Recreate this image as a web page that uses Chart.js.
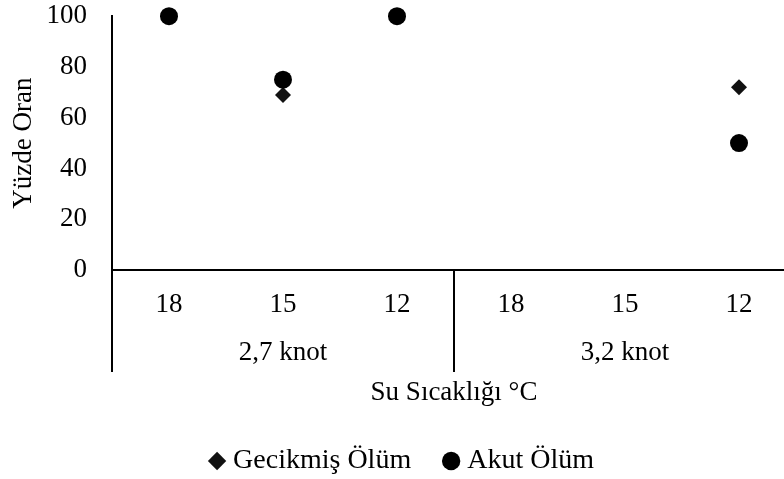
<!DOCTYPE html>
<html>
<head>
<meta charset="utf-8">
<script src="https://cdn.jsdelivr.net/npm/chart.js@4.4.1/dist/chart.umd.min.js"></script>
<style>
  html, body { margin: 0; padding: 0; background: #fff; overflow: hidden; }
  #wrap { width: 805px; height: 485px; }
</style>
</head>
<body>
<div id="wrap"><canvas id="c"></canvas></div>
<script>
// data
const tempLabels = ['18', '15', '12', '18', '15', '12'];
const speedLabels = ['2,7 knot', '3,2 knot'];
const gecikmis = [100, 69, 100, null, null, 72];
const akut = [100, 75, 100, null, null, 50];
const yTicks = [0, 20, 40, 60, 80, 100];

const FONT = "'Liberation Serif', 'Times New Roman', serif";
// invisible tick marks are used as the label gap (ticks.padding would also pad the chart area)
const gap = len => ({ display: true, drawOnChartArea: false, drawTicks: true, tickLength: len, color: 'rgba(0,0,0,0)' });

// extra axis lines: y axis runs down through the category rows, plus group separators
const groupLines = {
  id: 'groupLines',
  afterDraw(chart) {
    const { ctx, chartArea } = chart;
    const x = chart.scales.x, x2 = chart.scales.x2;
    const bottom = x2.top + 40;
    const mid = (x.getPixelForValue(2) + x.getPixelForValue(3)) / 2;
    ctx.save();
    ctx.strokeStyle = '#000';
    ctx.lineWidth = 2;
    ctx.beginPath();
    [chartArea.left, mid, chartArea.right].forEach(px => {
      ctx.moveTo(px, chartArea.bottom);
      ctx.lineTo(px, bottom);
    });
    ctx.stroke();
    ctx.restore();
  }
};

new Chart(document.getElementById('c'), {
  type: 'line',
  data: {
    labels: tempLabels,
    datasets: [
      { label: 'Gecikmiş Ölüm', data: gecikmis, showLine: false, order: 2, clip: false,
        pointStyle: 'rectRot', pointRadius: 8, pointHoverRadius: 8,
        backgroundColor: '#111', borderColor: '#111', borderWidth: 0 },
      { label: 'Akut Ölüm', data: akut, showLine: false, order: 1, clip: false,
        pointStyle: 'circle', pointRadius: 9, pointHoverRadius: 9,
        backgroundColor: '#000', borderColor: '#000', borderWidth: 0 }
    ]
  },
  options: {
    responsive: true,
    maintainAspectRatio: false,
    animation: false,
    layout: { padding: { top: 16, bottom: 0, left: 13, right: 9 } },
    plugins: {
      tooltip: { enabled: false },
      legend: {
        position: 'bottom',
        labels: {
          usePointStyle: true, boxWidth: 4, boxHeight: 13, padding: 38,
          color: '#000', font: { family: FONT, size: 28 },
          sort: (a, b) => a.datasetIndex - b.datasetIndex
        }
      }
    },
    scales: {
      x: {
        type: 'category', offset: true,
        grid: gap(19),
        border: { display: true, color: '#000', width: 2 },
        ticks: { color: '#000', padding: 0, font: { family: FONT, size: 27 } },
        afterFit: s => { s.height = 62; }
      },
      x2: {
        type: 'category', position: 'bottom', offset: true, labels: speedLabels,
        grid: gap(5),
        border: { display: false },
        ticks: { color: '#000', padding: 0, font: { family: FONT, size: 27 } },
        title: { display: true, text: 'Su Sıcaklığı °C', color: '#000',
                 font: { family: FONT, size: 27 }, padding: { top: 0, bottom: 0 } },
        afterFit: s => { s.height = 77; }
      },
      y: {
        min: 0, max: 100,
        grid: gap(25),
        border: { display: true, color: '#000', width: 2 },
        afterBuildTicks: s => { s.ticks = yTicks.map(v => ({ value: v })); },
        ticks: { color: '#000', padding: 0, font: { family: FONT, size: 27 } },
        title: { display: true, text: 'Yüzde Oran', color: '#000',
                 font: { family: FONT, size: 27, lineHeight: 0.8 }, padding: { top: 0 } },
        afterFit: s => { s.width = 99; }
      }
    }
  },
  plugins: [groupLines]
});
</script>
</body>
</html>
